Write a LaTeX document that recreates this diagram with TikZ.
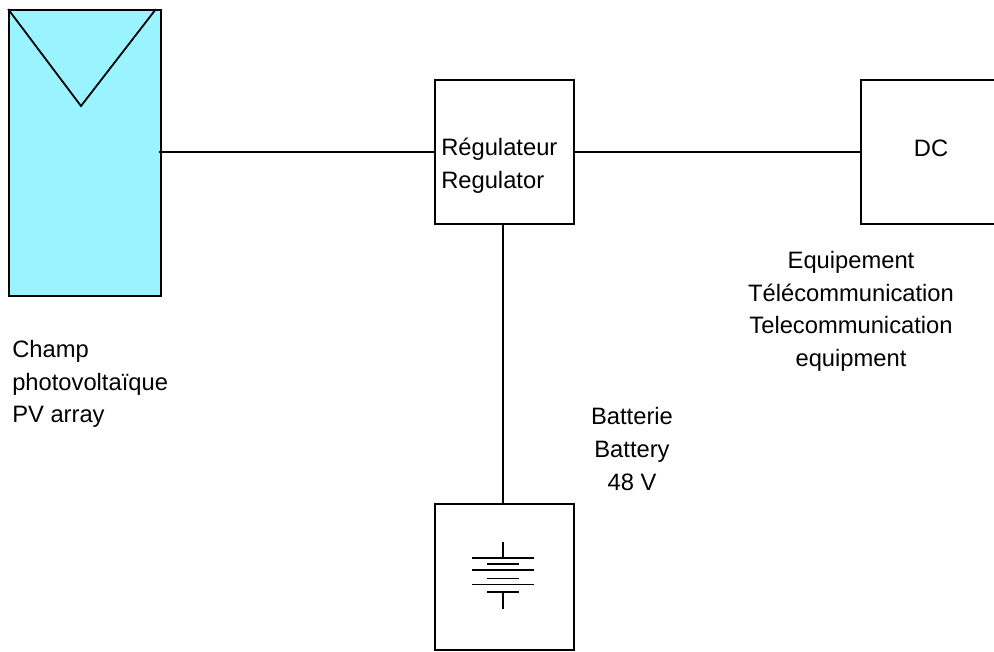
\documentclass[tikz,border=0pt]{standalone}
\usepackage{fontspec}
\setmainfont{Liberation Sans}
\definecolor{cielpanneau}{HTML}{99F4FF}
\tikzset{
    boite/.style={draw=black, line width=1.35pt, minimum width=104.25pt, minimum height=108pt, inner sep=0pt},
    texte/.style={font=\fontsize{17.8}{24.5}\selectfont, inner sep=0pt},
    trait/.style={draw=black, line width=1.35pt}
}
\begin{document}
\begin{tikzpicture}[x=0.75pt, y=-0.75pt, line join=miter, line cap=butt]
    \useasboundingbox (0,0) rectangle (994,651);

    % champ photovoltaique
    \node[boite, fill=cielpanneau, minimum width=114pt, minimum height=214.5pt] (champ) at (85,153) {};
    \coordinate (pointe) at (81,106);
    \path[trait] (champ.north west) -- (pointe) -- ([xshift=-4.5pt]champ.north east);

    % les trois boites
    \node[boite] (regulateur) at (504.5,152) {};
    \node[boite] (equipement) at (930.5,152) {};
    \node[boite, minimum height=109.5pt] (batterie) at (504.5,577) {};

    % liaisons
    \path[trait] ([xshift=-2pt]regulateur.west -| champ.east) -- (regulateur.west);
    \path[trait] (regulateur.east) -- (equipement.west);
    \path[trait] (regulateur.south -| 503,0) -- (batterie.north -| 503,0);

    % symbole de la batterie
    \coordinate (pile) at (503,575);
    \path[trait] ([yshift=25pt]pile) -- ([yshift=12.75pt]pile);
    \path[trait] ([yshift=-25.5pt]pile) -- ([yshift=-12.75pt]pile);
    \foreach \k/\dy/\lg in {0/-17/31, 1/-11/16, 2/-5/31, 3/3.5/16, 4/9.5/31, 5/17/16} {
        \path[trait] ([shift={(-\lg,\dy)}]pile) -- ([shift={(\lg,\dy)}]pile);
    }

    % textes
    \node[texte, align=left, anchor=west] (t1) at (441,166) {Régulateur\\Regulator};
    \node[texte] (t2) at (931,148) {DC};
    \node[texte, align=center] (t3) at (851,311.5) {Equipement\\Télécommunication\\Telecommunication\\equipment};
    \node[texte, align=left, anchor=west] (t4) at (12,384) {Champ\\photovoltaïque\\PV array};
    \node[texte, align=center] (t5) at (632,449) {Batterie\\Battery\\48 V};
\end{tikzpicture}
\end{document}
